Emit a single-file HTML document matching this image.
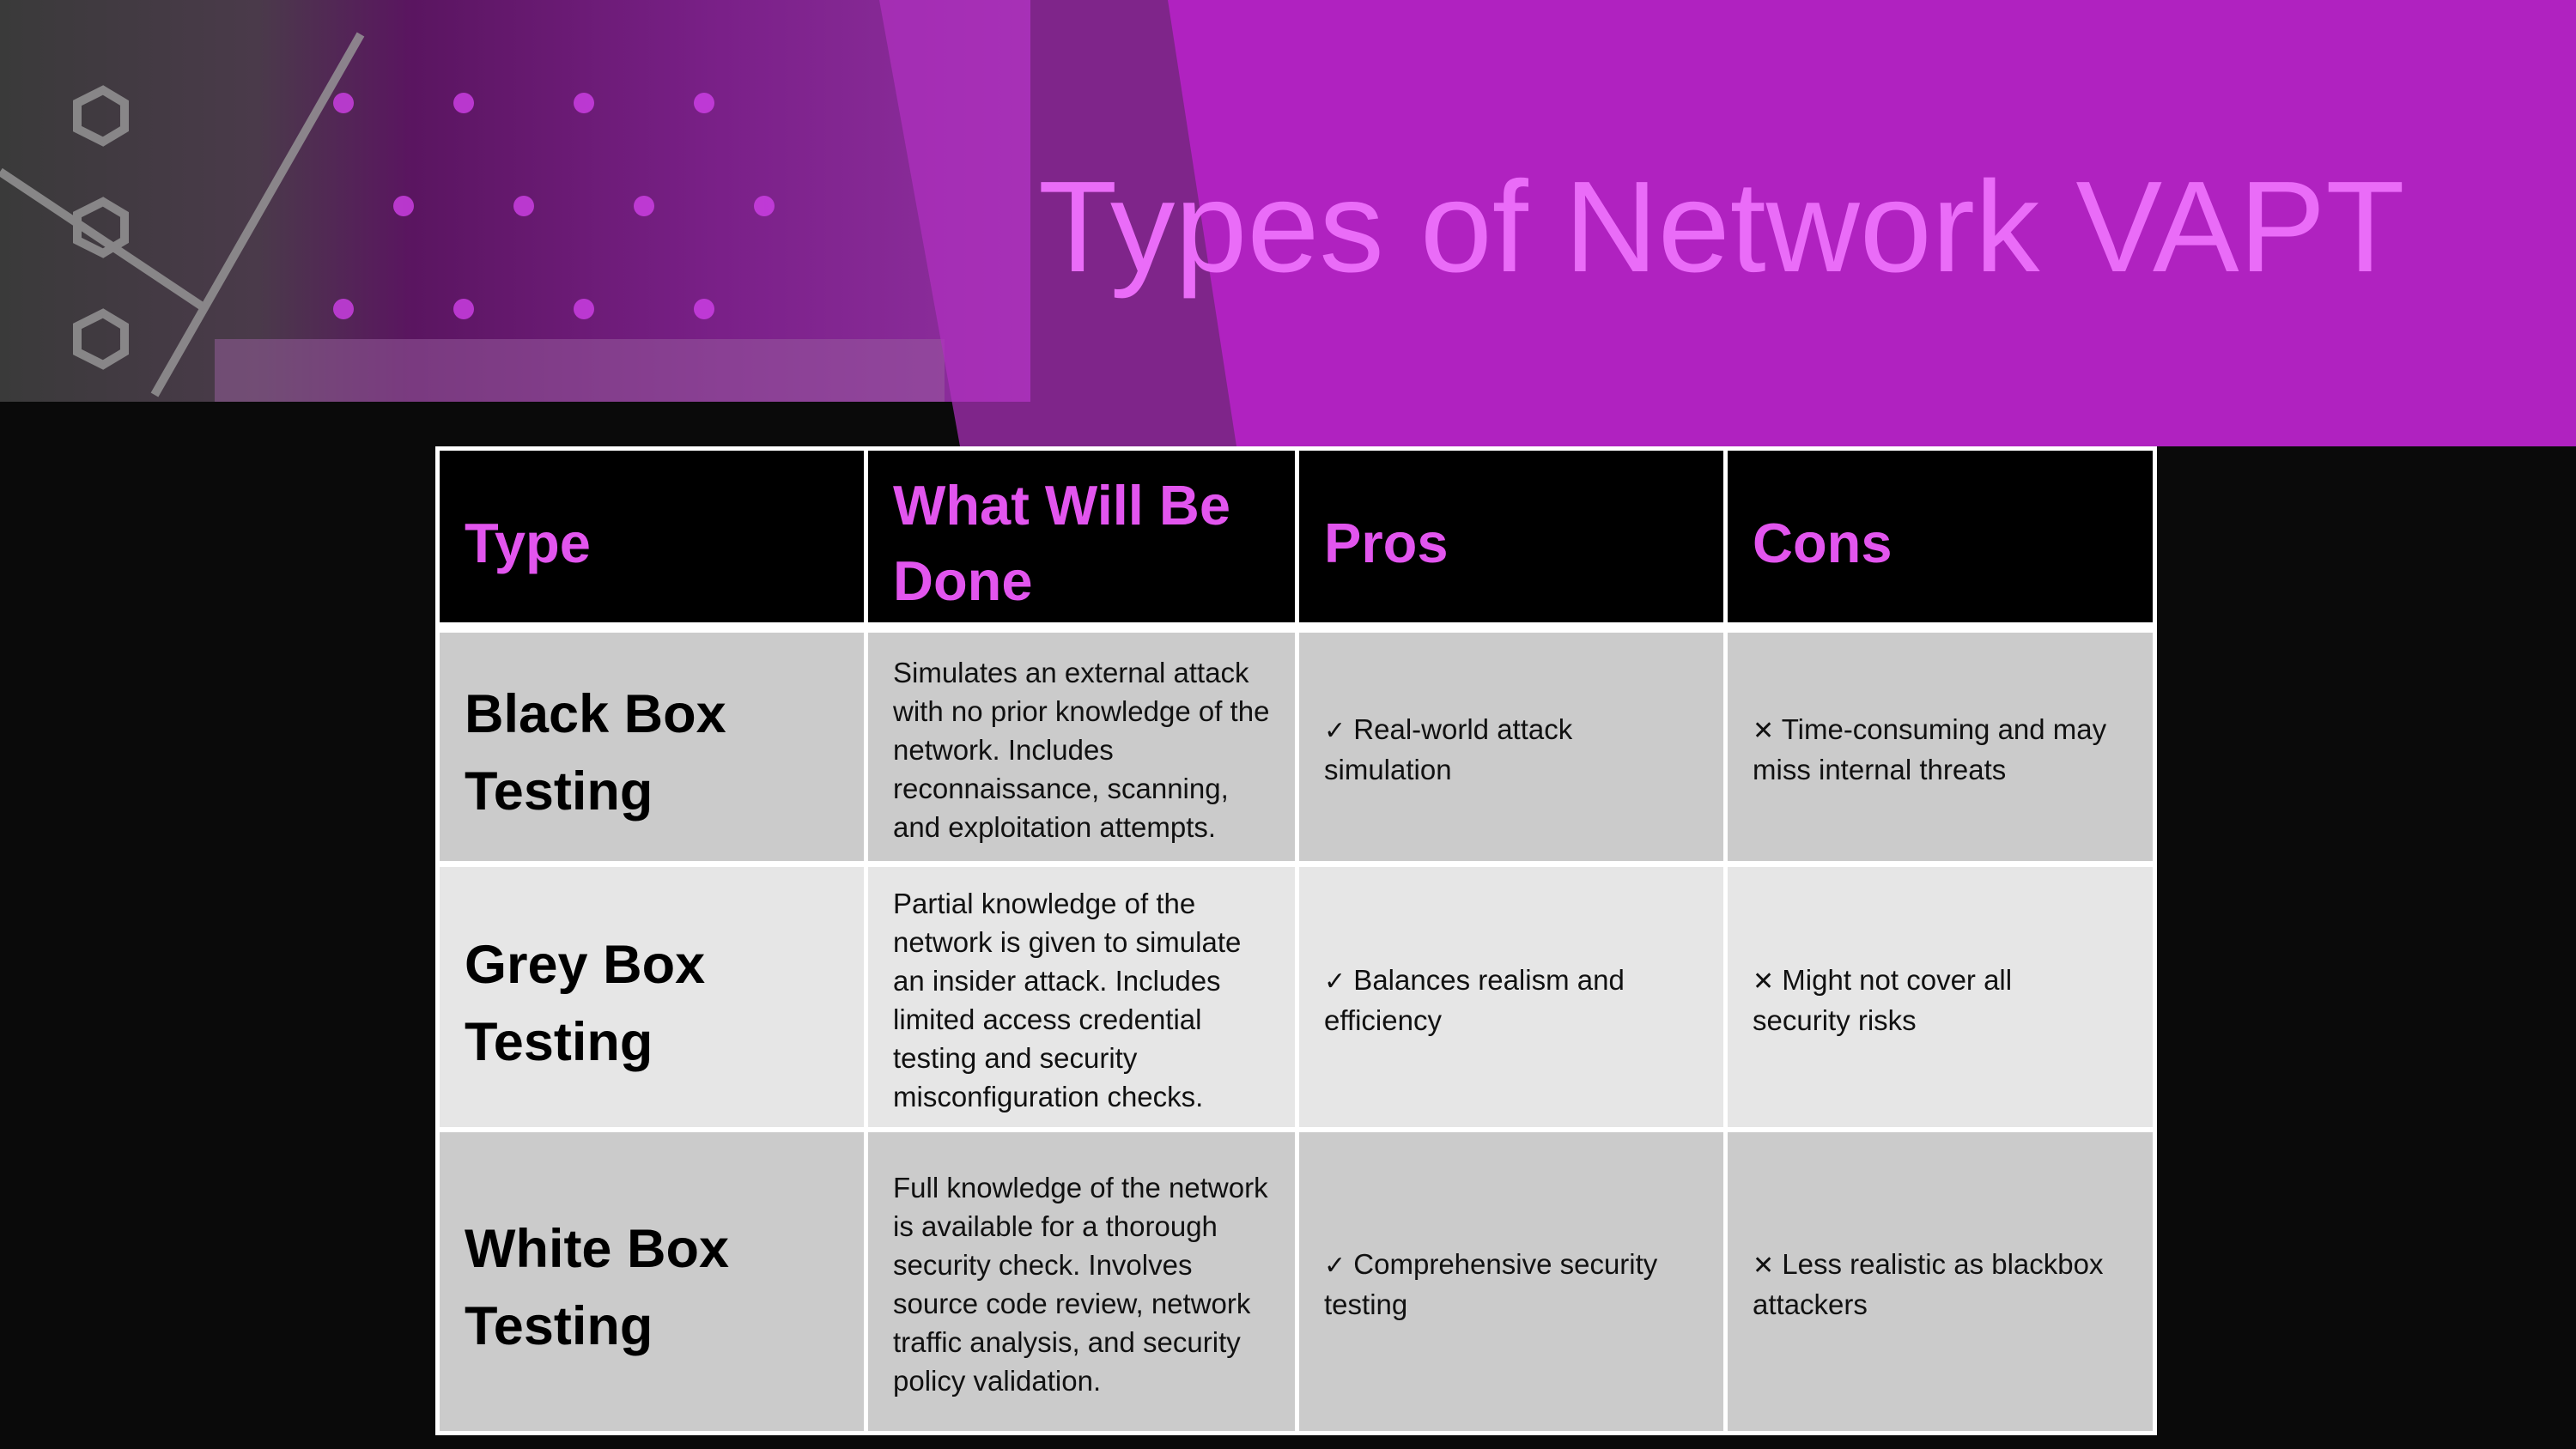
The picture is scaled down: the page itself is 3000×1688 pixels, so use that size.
<!DOCTYPE html>
<html><head><meta charset="utf-8"><style>
body{margin:0;width:3000px;height:1688px;background:#0a0a0a;position:relative;overflow:hidden;font-family:"Liberation Sans","DejaVu Sans",sans-serif}
.c{position:absolute;display:flex;flex-direction:column;justify-content:center;box-sizing:border-box;padding-left:29px;padding-right:24px}
.h{background:#000;color:#e255ee;font-weight:bold;font-size:65px;line-height:88px;padding-top:16px}
.t{font-weight:bold;font-size:63px;line-height:90px;color:#000;padding-top:14px}
.b{font-size:33px;line-height:45px;color:#111;padding-top:6px}
.g1{background:#cbcbcb}.g2{background:#e6e6e6}
.k{font-family:"DejaVu Sans",sans-serif;font-size:30px}
</style></head><body>
<svg style="position:absolute;left:0;top:0" width="3000" height="530">
<defs>
<linearGradient id="bg" x1="0" x2="1" y1="0" y2="0">
<stop offset="0" stop-color="#3a3a3a"/><stop offset="0.25" stop-color="#4a3a4a"/><stop offset="0.4" stop-color="#5a1560"/><stop offset="0.7" stop-color="#7a2088"/><stop offset="1" stop-color="#9030a0"/>
</linearGradient>
</defs>
<rect x="0" y="0" width="1200" height="468" fill="url(#bg)"/>
<g fill="none" stroke="#9a9a9a" stroke-width="10" opacity="0.8">
<polygon points="90,120 120,105 145,120 145,150 120,165 90,150"/>
<polygon points="90,250 120,235 145,250 145,280 120,295 90,280"/>
<polygon points="90,380 120,365 145,380 145,410 120,425 90,410"/>
<line x1="0" y1="200" x2="240" y2="360"/><line x1="180" y1="460" x2="420" y2="40"/>
</g>
<g fill="#d040e8" opacity="0.8">
<circle cx="400" cy="120" r="12"/><circle cx="540" cy="120" r="12"/><circle cx="680" cy="120" r="12"/><circle cx="820" cy="120" r="12"/>
<circle cx="470" cy="240" r="12"/><circle cx="610" cy="240" r="12"/><circle cx="750" cy="240" r="12"/><circle cx="890" cy="240" r="12"/>
<circle cx="400" cy="360" r="12"/><circle cx="540" cy="360" r="12"/><circle cx="680" cy="360" r="12"/><circle cx="820" cy="360" r="12"/>
</g>
<rect x="250" y="395" width="850" height="73" fill="#9a60a0" opacity="0.5"/>
<polygon points="1024,0 3000,0 3000,520 1118,520" fill="#b030c0" opacity="0.7"/>
<polygon points="1360,0 3000,0 3000,520 1440,520" fill="#b022c0"/>
<text x="1209" y="316" font-family="Liberation Sans, sans-serif" font-size="151" fill="#ea6cf8">Types of Network VAPT</text>
</svg>
<div style="position:absolute;left:507px;top:520px;width:2005px;height:1152px;background:#fff"></div>
<div class="c h" style="left:512px;top:525px;width:494px;height:200px">Type</div>
<div class="c h" style="left:1011px;top:525px;width:497px;height:200px">What Will Be<br>Done</div>
<div class="c h" style="left:1513px;top:525px;width:494px;height:200px">Pros</div>
<div class="c h" style="left:2012px;top:525px;width:495px;height:200px">Cons</div>

<div class="c t g1" style="left:512px;top:737px;width:494px;height:266px">Black Box<br>Testing</div>
<div class="c b g1" style="left:1011px;top:737px;width:497px;height:266px">Simulates an external attack with no prior knowledge of the network. Includes reconnaissance, scanning, and exploitation attempts.</div>
<div class="c b g1" style="left:1513px;top:737px;width:494px;height:266px"><div><span class="k">✓</span> Real-world attack<br>simulation</div></div>
<div class="c b g1" style="left:2012px;top:737px;width:495px;height:266px"><div><b class="k">✕</b> Time-consuming and may miss internal threats</div></div>

<div class="c t g2" style="left:512px;top:1010px;width:494px;height:303px">Grey Box<br>Testing</div>
<div class="c b g2" style="left:1011px;top:1010px;width:497px;height:303px">Partial knowledge of the network is given to simulate an insider attack. Includes limited access credential testing and security misconfiguration checks.</div>
<div class="c b g2" style="left:1513px;top:1010px;width:494px;height:303px"><div><span class="k">✓</span> Balances realism and efficiency</div></div>
<div class="c b g2" style="left:2012px;top:1010px;width:495px;height:303px"><div><b class="k">✕</b> Might not cover all<br>security risks</div></div>

<div class="c t g1" style="left:512px;top:1319px;width:494px;height:348px">White Box<br>Testing</div>
<div class="c b g1" style="left:1011px;top:1319px;width:497px;height:348px">Full knowledge of the network is available for a thorough security check. Involves source code review, network traffic analysis, and security policy validation.</div>
<div class="c b g1" style="left:1513px;top:1319px;width:494px;height:348px"><div><span class="k">✓</span> Comprehensive security testing</div></div>
<div class="c b g1" style="left:2012px;top:1319px;width:495px;height:348px"><div><b class="k">✕</b> Less realistic as blackbox attackers</div></div>
</body></html>
